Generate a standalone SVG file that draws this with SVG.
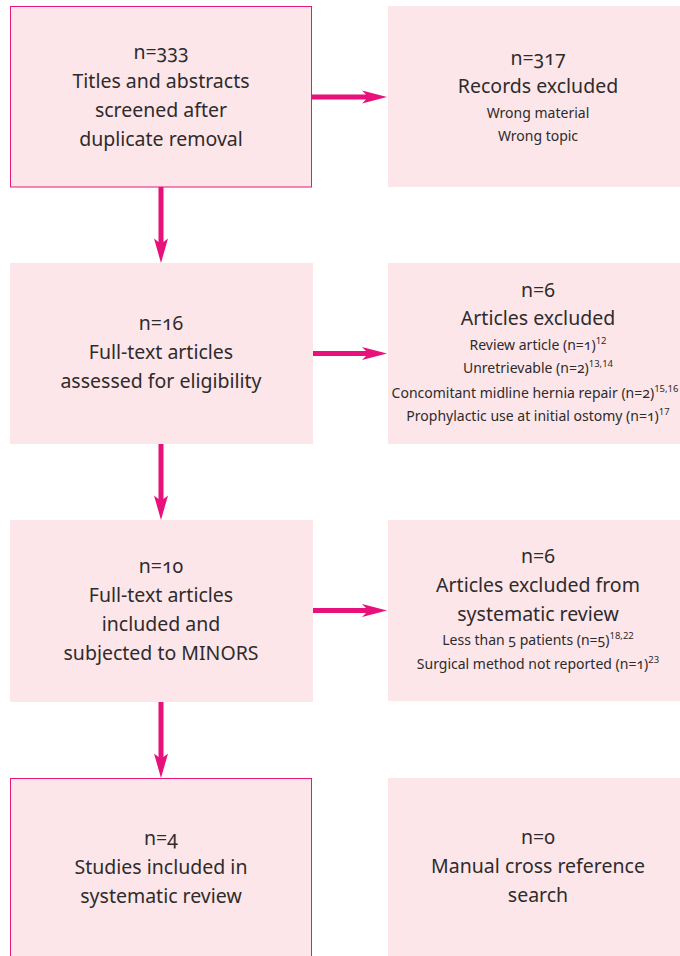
<svg xmlns="http://www.w3.org/2000/svg" width="680" height="956" viewBox="0 0 680 956">
<defs>
<style>
.box{fill:#fce6e9}
.bord{fill:#fce6e9;stroke:#e8177a;stroke-width:1}
text{font-family:"Noto Sans","Open Sans",sans-serif;fill:#2e2b2c;text-anchor:middle;font-variant-numeric:oldstyle-nums}
.l{font-size:19.5px}
.s{font-size:14px}
.sup{font-size:9.5px;font-variant-numeric:lining-nums}
.arr{fill:#e8107a}
</style>
</defs>
<rect width="680" height="956" fill="#ffffff"/>
<g id="n1">
<rect class="bord" x="10.5" y="6.5" width="301" height="180.5"/>
<text class="l" x="161" y="59">n=333</text>
<text class="l" x="161" y="88">Titles and abstracts</text>
<text class="l" x="161" y="117">screened after</text>
<text class="l" x="161" y="146">duplicate removal</text>
</g>
<g id="r1">
<rect class="box" x="388" y="6" width="300" height="181"/>
<text class="l" x="538" y="65">n=317</text>
<text class="l" x="538" y="93">Records excluded</text>
<text class="s" x="538" y="118">Wrong material</text>
<text class="s" x="538" y="141">Wrong topic</text>
</g>
<g id="n2">
<rect class="box" x="10" y="263" width="303" height="181"/>
<text class="l" x="161" y="330">n=16</text>
<text class="l" x="161" y="359">Full-text articles</text>
<text class="l" x="161" y="388">assessed for eligibility</text>
</g>
<g id="r2">
<rect class="box" x="388" y="263" width="300" height="181"/>
<text class="l" x="538" y="297">n=6</text>
<text class="l" x="538" y="325">Articles excluded</text>
<text class="s" x="538" y="350">Review article (n=1)<tspan class="sup" dy="-6">12</tspan></text>
<text class="s" x="538" y="373">Unretrievable (n=2)<tspan class="sup" dy="-6">13,14</tspan></text>
<text class="s" x="535" y="398">Concomitant midline hernia repair (n=2)<tspan class="sup" dy="-6">15,16</tspan></text>
<text class="s" x="538" y="421">Prophylactic use at initial ostomy (n=1)<tspan class="sup" dy="-6">17</tspan></text>
</g>
<g id="n3">
<rect class="box" x="10" y="520" width="303" height="182"/>
<text class="l" x="161" y="573">n=10</text>
<text class="l" x="161" y="602">Full-text articles</text>
<text class="l" x="161" y="631">included and</text>
<text class="l" x="161" y="660">subjected to MINORS</text>
</g>
<g id="r3">
<rect class="box" x="388" y="520" width="300" height="181"/>
<text class="l" x="538" y="563">n=6</text>
<text class="l" x="538" y="592">Articles excluded from</text>
<text class="l" x="538" y="621">systematic review</text>
<text class="s" x="538" y="645">Less than 5 patients (n=5)<tspan class="sup" dy="-6">18,22</tspan></text>
<text class="s" x="538" y="669">Surgical method not reported (n=1)<tspan class="sup" dy="-6">23</tspan></text>
</g>
<g id="n4">
<rect class="bord" x="10.5" y="778.5" width="301" height="190"/>
<text class="l" x="161" y="845">n=4</text>
<text class="l" x="161" y="874">Studies included in</text>
<text class="l" x="161" y="903">systematic review</text>
</g>
<g id="r4">
<rect class="box" x="388" y="778" width="300" height="190"/>
<text class="l" x="538" y="844">n=0</text>
<text class="l" x="538" y="873">Manual cross reference</text>
<text class="l" x="538" y="902">search</text>
</g>
<g id="connectors" class="arr">
<polygon points="312,94.5 366,94.5 362,90.5 387,97 362,103.5 366,99.5 312,99.5"/>
<polygon points="313,351 366,351 362,347 387,353.5 362,360 366,356 313,356"/>
<polygon points="313,608 366,608 362,604 387,610.5 362,617 366,613 313,613"/>
<polygon points="158.5,187 163.5,187 163.5,242 168,238.5 161,263 154,238.5 158.5,242"/>
<polygon points="158.5,444 163.5,444 163.5,499 168,495.5 161,520 154,495.5 158.5,499"/>
<polygon points="158.5,702 163.5,702 163.5,757 168,753.5 161,778 154,753.5 158.5,757"/>
</g>
</svg>
